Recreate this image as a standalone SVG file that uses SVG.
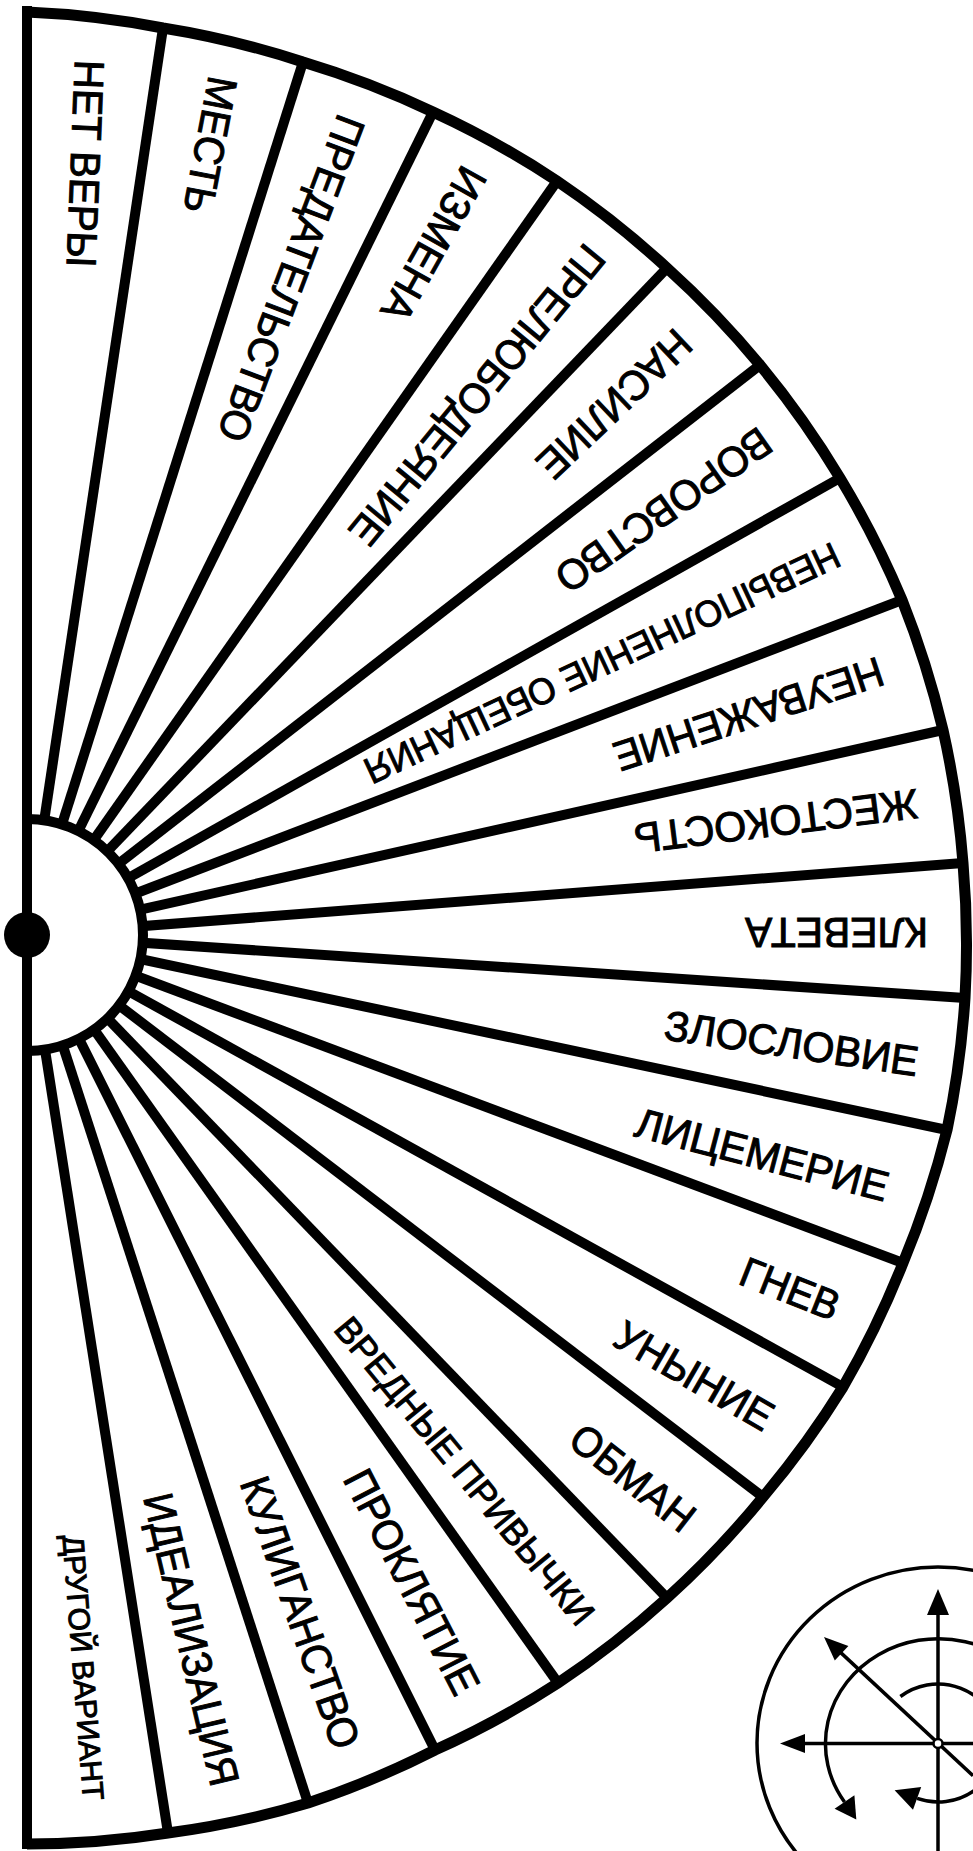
<svg xmlns="http://www.w3.org/2000/svg" width="973" height="1851" viewBox="0 0 973 1851">
<style>
.sp{stroke:#000;stroke-width:10;fill:none}
.rim{fill:none;stroke:#000;stroke-width:11;stroke-linejoin:round}
.lbl{font-family:"Liberation Sans",Arial,sans-serif;font-size:42px;fill:#000;stroke:#000;stroke-width:1;text-anchor:middle}
.cmp{fill:none;stroke:#000;stroke-width:3.5}
.ah{fill:#000;stroke:none}
</style>
<rect width="973" height="1851" fill="#fff"/>
<g id="spokes" class="sp">
<line x1="27" y1="935" x2="163" y2="28"/>
<line x1="27" y1="935" x2="303" y2="62"/>
<line x1="27" y1="935" x2="433" y2="112"/>
<line x1="27" y1="935" x2="557" y2="181"/>
<line x1="27" y1="935" x2="667" y2="268"/>
<line x1="27" y1="935" x2="760" y2="365"/>
<line x1="27" y1="935" x2="840" y2="478"/>
<line x1="27" y1="935" x2="902" y2="600"/>
<line x1="27" y1="935" x2="943" y2="730"/>
<line x1="27" y1="935" x2="963" y2="863"/>
<line x1="27" y1="935" x2="965" y2="998"/>
<line x1="27" y1="935" x2="947" y2="1130"/>
<line x1="27" y1="935" x2="903" y2="1263"/>
<line x1="27" y1="935" x2="843" y2="1387"/>
<line x1="27" y1="935" x2="763" y2="1497"/>
<line x1="27" y1="935" x2="667" y2="1598"/>
<line x1="27" y1="935" x2="558" y2="1683"/>
<line x1="27" y1="935" x2="435" y2="1750"/>
<line x1="27" y1="935" x2="308" y2="1803"/>
<line x1="27" y1="935" x2="168" y2="1833"/>
</g>
<path id="rim" class="rim" d="M27 12 A920 920 0 0 1 163 28 A916 916 0 0 1 303 62 A917 917 0 0 1 433 112 A920 920 0 0 1 557 181 A923 923 0 0 1 667 268 A926 926 0 0 1 760 365 A930 930 0 0 1 840 478 A935 935 0 0 1 902 600 A938 938 0 0 1 943 730 A939 939 0 0 1 963 863 A940 940 0 0 1 965 998 A940 940 0 0 1 947 1130 A938 938 0 0 1 903 1263 A934 934 0 0 1 843 1387 A929 929 0 0 1 763 1497 A924 924 0 0 1 667 1598 A919 919 0 0 1 558 1683 A914 914 0 0 1 435 1750 A911 911 0 0 1 308 1803 A910 910 0 0 1 168 1833 A909 909 0 0 1 27 1844"/>
<g id="hub">
<path d="M27 819 A116 116 0 0 1 27 1051 Z" fill="#fff" stroke="#000" stroke-width="10"/>
</g>
<g id="axis">
<line x1="27" y1="6" x2="27" y2="1849" stroke="#000" stroke-width="10"/>
<circle cx="27" cy="935" r="23" fill="#000"/>
</g>
<g id="labels" class="lbl">
<text id="l1" transform="translate(85 163.5) rotate(92.3)" dy="0.34em" textLength="207" lengthAdjust="spacingAndGlyphs">НЕТ ВЕРЫ</text>
<text id="l2" transform="translate(210 145) rotate(100.8)" dy="0.34em" textLength="138" lengthAdjust="spacingAndGlyphs">МЕСТЬ</text>
<text id="l3" transform="translate(291 278.5) rotate(110.7)" dy="0.34em" textLength="345" lengthAdjust="spacingAndGlyphs">ПРЕДАТЕЛЬСТВО</text>
<text id="l4" transform="translate(433.5 244) rotate(119.3)" dy="0.34em" textLength="170" lengthAdjust="spacingAndGlyphs">ИЗМЕНА</text>
<text id="l5" transform="translate(477 395) rotate(129.5)" dy="0.34em" textLength="375" lengthAdjust="spacingAndGlyphs">ПРЕЛЮБОДЕЯНИЕ</text>
<text id="l6" transform="translate(614 404) rotate(136.5)" dy="0.34em" textLength="195" lengthAdjust="spacingAndGlyphs">НАСИЛИЕ</text>
<text id="l7" transform="translate(663.5 510) rotate(144.9)" dy="0.34em" textLength="253" lengthAdjust="spacingAndGlyphs">ВОРОВСТВО</text>
<text id="l8" transform="translate(602 663) rotate(155)" dy="0.34em" textLength="520" lengthAdjust="spacingAndGlyphs" style="font-size:37px">НЕВЫПОЛНЕНИЕ ОБЕЩАНИЯ</text>
<text id="l9" transform="translate(748.5 714) rotate(161.75)" dy="0.34em" textLength="281" lengthAdjust="spacingAndGlyphs">НЕУВАЖЕНИЕ</text>
<text id="l10" transform="translate(776 821) rotate(172.8)" dy="0.34em" textLength="286" lengthAdjust="spacingAndGlyphs">ЖЕСТОКОСТЬ</text>
<text id="l11" transform="translate(836.5 932.5) rotate(180)" dy="0.34em" textLength="183" lengthAdjust="spacingAndGlyphs">КЛЕВЕТА</text>
<text id="l12" transform="translate(791.5 1043.5) rotate(8.3)" dy="0.34em" textLength="256" lengthAdjust="spacingAndGlyphs">ЗЛОСЛОВИЕ</text>
<text id="l13" transform="translate(762 1155) rotate(14.7)" dy="0.34em" textLength="260" lengthAdjust="spacingAndGlyphs">ЛИЦЕМЕРИЕ</text>
<text id="l14" transform="translate(790 1289) rotate(21.6)" dy="0.34em" textLength="103" lengthAdjust="spacingAndGlyphs">ГНЕВ</text>
<text id="l15" transform="translate(694 1376) rotate(30)" dy="0.34em" textLength="176" lengthAdjust="spacingAndGlyphs">УНЫНИЕ</text>
<text id="l16" transform="translate(632.5 1478) rotate(38)" dy="0.34em" textLength="146" lengthAdjust="spacingAndGlyphs">ОБМАН</text>
<text id="l17" transform="translate(464.5 1471) rotate(50.6)" dy="0.34em" textLength="386" lengthAdjust="spacingAndGlyphs" style="font-size:36px">ВРЕДНЫЕ ПРИВЫЧКИ</text>
<text id="l18" transform="translate(411.5 1582) rotate(62.8)" dy="0.34em" textLength="247" lengthAdjust="spacingAndGlyphs">ПРОКЛЯТИЕ</text>
<text id="l19" transform="translate(300 1612.5) rotate(70.7)" dy="0.34em" textLength="285" lengthAdjust="spacingAndGlyphs">КУЛИГАНСТВО</text>
<text id="l20" transform="translate(191 1639.5) rotate(76.8)" dy="0.34em" textLength="299" lengthAdjust="spacingAndGlyphs">ИДЕАЛИЗАЦИЯ</text>
<text id="l21" transform="translate(83 1667.5) rotate(85.5)" dy="0.34em" textLength="266" lengthAdjust="spacingAndGlyphs" style="font-size:30px">ДРУГОЙ ВАРИАНТ</text>
</g>
<g id="compass">
<g class="cmp">
<ellipse cx="938" cy="1743" rx="181" ry="176"/>
<path d="M1035.9 1690.5 A113 105 0 1 0 844.5 1802"/>
<path d="M900.4 1696.5 A61 59 0 1 1 917.1 1798.4"/>
<line x1="938" y1="1851" x2="938" y2="1610"/>
<line x1="973" y1="1743.5" x2="800" y2="1743.5"/>
<line x1="973" y1="1775.7" x2="838.6" y2="1650.6"/>
</g>
<g class="ah">
<polygon points="938,1589 927,1615 949,1615"/>
<polygon points="780,1743.5 805,1734 805,1753"/>
<polygon points="824,1637 848.4,1646 834.8,1660.6"/>
<polygon points="856.3,1819.4 854.4,1795.3 834.6,1808.7"/>
<polygon points="894.6,1790.2 921.2,1787.1 913,1809.7"/>
</g>
<circle cx="938" cy="1743.5" r="4.5" fill="#fff" stroke="#000" stroke-width="2.5"/>
</g>
</svg>
